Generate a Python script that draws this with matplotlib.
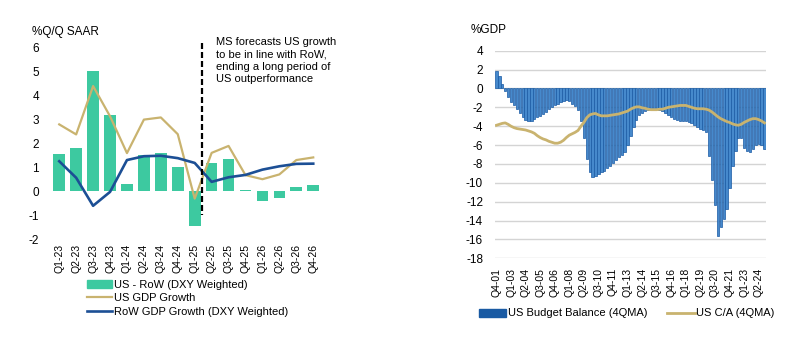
import numpy as np
import matplotlib
matplotlib.use("Agg")
import matplotlib.pyplot as plt
from matplotlib.patches import Patch
from matplotlib.lines import Line2D

plt.rcParams["font.family"] = ["Liberation Sans", "DejaVu Sans"]
plt.rcParams["axes.unicode_minus"] = False

# lewy wykres: wzrost PKB USA vs reszta swiata
kwartaly = ["Q1-23", "Q2-23", "Q3-23", "Q4-23", "Q1-24", "Q2-24", "Q3-24", "Q4-24",
            "Q1-25", "Q2-25", "Q3-25", "Q4-25", "Q1-26", "Q2-26", "Q3-26", "Q4-26"]
roznica = [1.55, 1.82, 5.0, 3.2, 0.29, 1.52, 1.59, 1.03,
           -1.45, 1.18, 1.34, 0.03, -0.4, -0.29, 0.17, 0.25]
usGdp = [2.79, 2.37, 4.39, 3.13, 1.59, 2.99, 3.08, 2.38,
         -0.31, 1.6, 1.89, 0.67, 0.5, 0.7, 1.3, 1.41]
rowGdp = [1.25, 0.56, -0.61, -0.03, 1.3, 1.46, 1.48, 1.38,
          1.18, 0.39, 0.58, 0.68, 0.9, 1.04, 1.14, 1.15]
granicaPrognozy = 8.45

# prawy wykres: saldo budzetu i rachunek biezacy (% PKB, 4QMA), Q4-01 .. Q4-24
budzet = [1.9, 1.3, 0.5, -0.3, -0.9, -1.4, -1.8, -2.2, -2.6, -3.0,
          -3.3, -3.4, -3.4, -3.2, -3.0, -2.9, -2.7, -2.5, -2.2, -2.0,
          -1.8, -1.6, -1.4, -1.3, -1.25, -1.3, -1.6, -1.9, -2.3, -3.5,
          -5.3, -7.5, -8.9, -9.4, -9.3, -9.1, -8.9, -8.7, -8.4, -8.2,
          -7.9, -7.6, -7.3, -7.0, -6.7, -6.0, -5.0, -4.1, -3.3, -2.8,
          -2.6, -2.4, -2.3, -2.3, -2.2, -2.2, -2.3, -2.4, -2.6, -2.8,
          -3.0, -3.2, -3.3, -3.4, -3.4, -3.5, -3.6, -3.7, -3.9, -4.1,
          -4.3, -4.4, -4.6, -7.2, -9.7, -12.3, -15.6, -14.7, -13.8, -12.8,
          -10.5, -8.2, -6.6, -5.3, -5.3, -6.3, -6.6, -6.7, -6.4, -6.0,
          -5.9, -6.0, -6.4]
rachunekBiezacy = [-3.9, -3.8, -3.7, -3.65, -3.8, -4.0, -4.15, -4.25, -4.3, -4.35,
                   -4.4, -4.5, -4.6, -4.75, -5.0, -5.2, -5.35, -5.45, -5.6, -5.7,
                   -5.8, -5.8, -5.7, -5.5, -5.2, -4.95, -4.8, -4.65, -4.45, -4.0,
                   -3.6, -3.1, -2.8, -2.7, -2.65, -2.8, -2.9, -2.9, -2.9, -2.85,
                   -2.8, -2.75, -2.7, -2.6, -2.5, -2.4, -2.2, -2.05, -1.95, -1.95,
                   -2.05, -2.1, -2.2, -2.25, -2.25, -2.25, -2.2, -2.2, -2.1, -2.0,
                   -1.95, -1.9, -1.85, -1.8, -1.8, -1.8, -1.9, -2.0, -2.1, -2.15,
                   -2.15, -2.15, -2.2, -2.3, -2.5, -2.75, -3.0, -3.2, -3.35, -3.5,
                   -3.6, -3.75, -3.85, -3.9, -3.8, -3.6, -3.45, -3.3, -3.2, -3.2,
                   -3.3, -3.45, -3.65]
etykietyBudzet = ["Q4-01", "Q1-03", "Q2-04", "Q3-05", "Q4-06", "Q1-08", "Q2-09",
                  "Q3-10", "Q4-11", "Q1-13", "Q2-14", "Q3-15", "Q4-16", "Q1-18",
                  "Q2-19", "Q3-20", "Q4-21", "Q1-23", "Q2-24"]

TURKUS = "#3dc9a0"
ZLOTY = "#c9b36f"
GRANAT = "#1c4f95"

fig = plt.figure(figsize=(8.12, 3.42), dpi=100)

# ---- lewy panel ----
ax1 = fig.add_axes([0.0573, 0.301, 0.3441, 0.560])
x = np.arange(len(kwartaly))
ax1.bar(x, roznica, width=0.69, color=TURKUS, zorder=1)
ax1.plot(x, usGdp, color=ZLOTY, lw=1.6, zorder=2)
ax1.plot(x, rowGdp, color=GRANAT, lw=1.9, zorder=3)
ax1.plot([granicaPrognozy, granicaPrognozy], [6.2, -1.0], color="black", lw=1.6,
         dashes=[2.7, 1.35], clip_on=False, zorder=4)
ax1.set_xlim(-0.75, len(kwartaly) - 0.25)
ax1.set_ylim(-2, 6)
ax1.set_yticks(range(-2, 7))
ax1.set_xticks(x)
ax1.set_xticklabels(kwartaly, rotation=90, fontsize=7.5)
ax1.tick_params(axis="y", length=0, pad=5.4, labelsize=8.5)
ax1.tick_params(axis="x", length=0, pad=3.5)
for s in ax1.spines.values():
    s.set_visible(False)
fig.text(32 / 812, 1 - 32 / 342, "%Q/Q SAAR", fontsize=8.5, va="center", ha="left")
fig.text(216.5 / 812, 1 - 37 / 342,
         "MS forecasts US growth\nto be in line with RoW,\nending a long period of\nUS outperformance",
         fontsize=8, va="top", ha="left", linespacing=1.3)

uchwyty1 = [Patch(color=TURKUS), Line2D([0], [0], color=ZLOTY, lw=1.6),
            Line2D([0], [0], color=GRANAT, lw=1.9)]
fig.legend(uchwyty1, ["US - RoW (DXY Weighted)", "US GDP Growth", "RoW GDP Growth (DXY Weighted)"],
           loc="upper left", bbox_to_anchor=(86.7 / 812, 1 - 279.5 / 342), bbox_transform=fig.transFigure,
           frameon=False, fontsize=8, handlelength=2.25, handletextpad=0.2, labelspacing=0.33,
           borderpad=0, borderaxespad=0)

# ---- prawy panel ----
ax2 = fig.add_axes([0.6096, 0.2447, 0.3337, 0.607])
xb = np.arange(len(budzet))
ax2.bar(xb, budzet, width=0.8, color="#4689cc", edgecolor="#195aa3", lw=0.5, zorder=2)
ax2.plot(xb, rachunekBiezacy, color=ZLOTY, lw=2.0, zorder=3)
ax2.set_xlim(-0.5, len(budzet) - 0.5)
ax2.set_ylim(-18, 4)
ax2.set_yticks(range(-18, 5, 2))
ax2.yaxis.grid(True, color="#d4d4d4", lw=1.0, zorder=0)
ax2.set_axisbelow(True)
ax2.set_xticks(xb[::5])
ax2.set_xticklabels(etykietyBudzet, rotation=90, fontsize=7.5)
ax2.tick_params(axis="y", length=0, pad=8.6, labelsize=8.5)
ax2.tick_params(axis="x", length=0, pad=7)
for s in ax2.spines.values():
    s.set_visible(False)
fig.text(471 / 812, 1 - 30 / 342, "%GDP", fontsize=8.5, va="center", ha="left")

uchwyty2 = [Patch(color="#195aa3"), Line2D([0], [0], color=ZLOTY, lw=2.0)]
fig.legend(uchwyty2, ["US Budget Balance (4QMA)", "US C/A (4QMA)"],
           loc="upper left", bbox_to_anchor=(479 / 812, 1 - 308.5 / 342), bbox_transform=fig.transFigure,
           ncol=2, frameon=False, fontsize=8, handlelength=2.45, handletextpad=0.15,
           columnspacing=1.8, borderpad=0, borderaxespad=0)

fig.savefig("out.png", dpi=100)
